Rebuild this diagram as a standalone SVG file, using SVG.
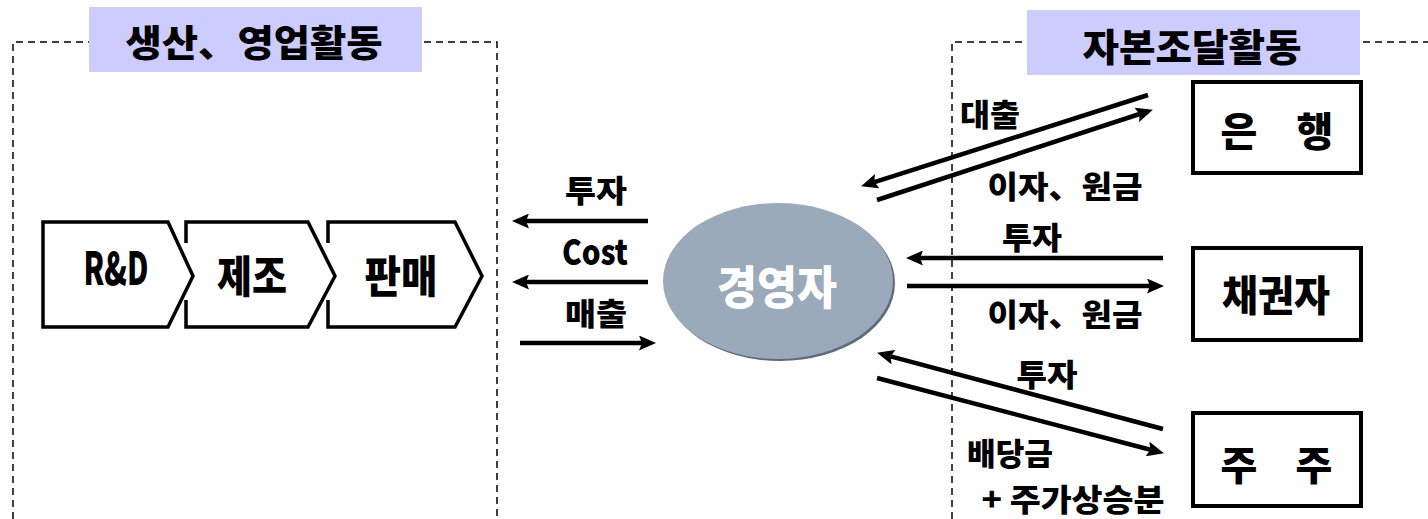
<svg xmlns="http://www.w3.org/2000/svg" width="1428" height="519" viewBox="0 0 1428 519">
<style>
.t{font-family:"Noto Sans CJK KR","Noto Sans",sans-serif;font-weight:900;fill:#000;text-anchor:middle}
.dash{fill:none;stroke:#000;stroke-width:1.5;stroke-dasharray:7 5}
.box{fill:#fff;stroke:#000;stroke-width:4}
.chev{fill:#fff;stroke:#000;stroke-width:3.5;stroke-linejoin:miter}
.arr{stroke:#000;stroke-width:4.5;fill:none;marker-end:url(#ah)}
.title{fill:#CCCCFF}
</style>
<defs>
<marker id="ah" markerUnits="userSpaceOnUse" viewBox="0 0 17 15" markerWidth="17" markerHeight="15" refX="3" refY="7.5" orient="auto">
<path d="M0,0 L17,7.5 L0,15 L3,7.5 z" fill="#000"/>
</marker>
</defs>
<rect width="1428" height="519" fill="#fff"/>

<g id="group-production">
<path class="dash" d="M13,519 L13,42 L497,42 L497,519"/>
<rect class="title" x="89" y="7" width="333" height="65"/>
<text class="t" x="254" y="57" font-size="37" textLength="257" lengthAdjust="spacingAndGlyphs">생산、영업활동</text>
</g>

<g id="group-capital">
<path class="dash" d="M952,519 L952,42 L1428,42"/>
<rect class="title" x="1027" y="10" width="333" height="65"/>
<text class="t" x="1192" y="61" font-size="38" textLength="219" lengthAdjust="spacingAndGlyphs">자본조달활동</text>
</g>

<g id="node-sales">
<polygon points="328,222 455,222 482,276 455,327 328,327" fill="#fff"/>
<path class="chev" d="M328,243 L328,222 L455,222 L482,276 L455,327 L328,327 L328,300"/>
<text class="t" x="401" y="293" font-size="44" textLength="73" lengthAdjust="spacingAndGlyphs">판매</text>
</g>
<g id="node-manufacturing">
<polygon points="186,222 308,222 335,276 308,327 186,327" fill="#fff"/>
<path class="chev" d="M186,243 L186,222 L308,222 L335,276 L308,327 L186,327 L186,300"/>
<text class="t" x="252" y="293" font-size="44" textLength="70" lengthAdjust="spacingAndGlyphs">제조</text>
</g>
<g id="node-rnd">
<path class="chev" d="M43,222 L168,222 L193,276 L168,327 L43,327 Z"/>
<text class="t" x="116" y="285" font-size="45" textLength="65" lengthAdjust="spacingAndGlyphs">R&amp;D</text>
</g>

<g id="node-manager">
<ellipse cx="780" cy="283" rx="115" ry="78" fill="#5E6B7C"/>
<ellipse cx="778" cy="281" rx="115" ry="78" fill="#9BAABB"/>
<text x="777" y="304" font-size="46" textLength="120" lengthAdjust="spacingAndGlyphs" style="font-family:'Noto Sans CJK KR','Noto Sans',sans-serif;font-weight:900;fill:#fff;text-anchor:middle">경영자</text>
</g>

<g id="node-bank">
<rect class="box" x="1193" y="82" width="168" height="91"/>
<text class="t" x="1239" y="146" font-size="40">은</text>
<text class="t" x="1315" y="146" font-size="40">행</text>
</g>
<g id="node-creditor">
<rect class="box" x="1193" y="248" width="168" height="92"/>
<text class="t" x="1276" y="311" font-size="42" textLength="108" lengthAdjust="spacingAndGlyphs">채권자</text>
</g>
<g id="node-shareholder">
<rect class="box" x="1193" y="413" width="168" height="93"/>
<text class="t" x="1239" y="480" font-size="40">주</text>
<text class="t" x="1314" y="480" font-size="40">주</text>
</g>

<g id="connectors">
<line class="arr" x1="648" y1="221" x2="526" y2="221"/>
<line class="arr" x1="648" y1="282" x2="526" y2="282"/>
<line class="arr" x1="520" y1="343" x2="642" y2="343"/>
<line class="arr" x1="1148" y1="95" x2="874.4" y2="182.1"/>
<line class="arr" x1="877" y1="200" x2="1139.6" y2="114"/>
<line class="arr" x1="1163" y1="258" x2="920" y2="258"/>
<line class="arr" x1="907" y1="286" x2="1150" y2="286"/>
<line class="arr" x1="1163" y1="429" x2="890.6" y2="356.4"/>
<line class="arr" x1="877" y1="378" x2="1150.4" y2="449.7"/>
</g>

<g id="labels">
<text class="t" x="596" y="202" font-size="31" textLength="62" lengthAdjust="spacingAndGlyphs">투자</text>
<text class="t" x="595" y="265" font-size="35" textLength="66" lengthAdjust="spacingAndGlyphs">Cost</text>
<text class="t" x="596" y="325" font-size="31" textLength="62" lengthAdjust="spacingAndGlyphs">매출</text>
<text class="t" x="990" y="126" font-size="31" textLength="60" lengthAdjust="spacingAndGlyphs">대출</text>
<text class="t" x="1065" y="198" font-size="31" textLength="155" lengthAdjust="spacingAndGlyphs">이자、원금</text>
<text class="t" x="1032" y="249" font-size="31" textLength="60" lengthAdjust="spacingAndGlyphs">투자</text>
<text class="t" x="1065" y="326" font-size="31" textLength="155" lengthAdjust="spacingAndGlyphs">이자、원금</text>
<text class="t" x="1047" y="386" font-size="31" textLength="61" lengthAdjust="spacingAndGlyphs">투자</text>
<text class="t" x="1010" y="465" font-size="31" textLength="86" lengthAdjust="spacingAndGlyphs">배당금</text>
<text class="t" x="1073" y="511" font-size="31" textLength="183" lengthAdjust="spacingAndGlyphs">+ 주가상승분</text>
</g>
</svg>
